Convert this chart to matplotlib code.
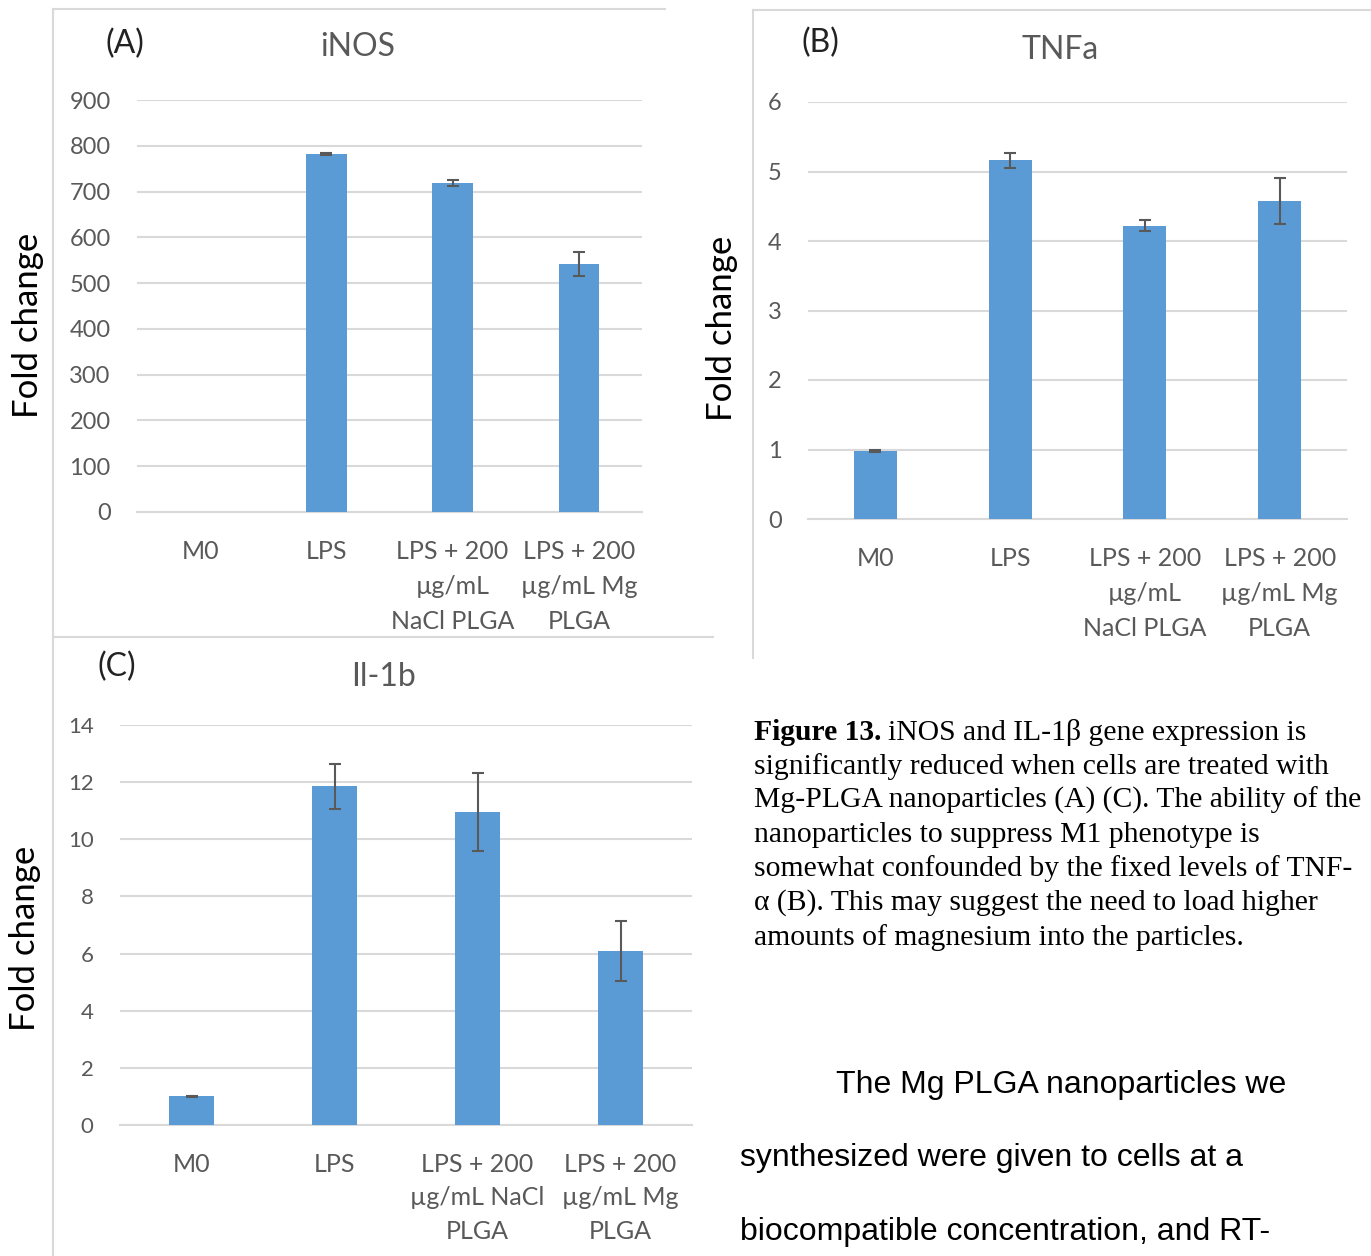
import matplotlib
matplotlib.use("Agg")
import matplotlib.pyplot as plt
from matplotlib.lines import Line2D

W, H = 1371, 1256

# ---- data ------------------------------------------------------------------
groups_ab = ["M0", "LPS", "LPS + 200\nµg/mL\nNaCl PLGA", "LPS + 200\nµg/mL Mg\nPLGA"]
groups_c = ["M0", "LPS", "LPS + 200\nµg/mL NaCl\nPLGA", "LPS + 200\nµg/mL Mg\nPLGA"]

inos_mean = [1, 782, 719, 542]
inos_err = [0, 2, 7, 27]

tnfa_mean = [0.98, 5.16, 4.22, 4.58]
tnfa_err = [0.01, 0.11, 0.08, 0.33]

il1b_mean = [1.0, 11.85, 10.95, 6.08]
il1b_err = [0.03, 0.8, 1.37, 1.05]

BAR = "#5b9bd5"
GRID = "#d9d9d9"
TXT = "#595959"
FONT = "Lato"


def fx(x):
    return x / W


def fy(y):
    return 1 - y / H


def panel(fig, box, labels, means, errs, ymax, ystep, tag, title,
          tag_xy, title_xy, ylab_xy, tick_size=17, lab_spacing=1.65):
    x0, ytop, x1, ybot = box
    ax = fig.add_axes([fx(x0), fy(ybot), fx(x1) - fx(x0), (ybot - ytop) / H])
    xs = list(range(len(labels)))
    ax.bar(xs, means, width=0.32, color=BAR, zorder=3)
    # only draw whiskers that have a spread
    ex = [x for x, e in zip(xs, errs) if e > 0]
    ey = [m for m, e in zip(means, errs) if e > 0]
    ee = [e for e in errs if e > 0]
    ax.errorbar(ex, ey, yerr=ee, fmt="none", ecolor=TXT, elinewidth=1.5,
                capsize=4, capthick=1.5, zorder=4)
    ax.set_xlim(-0.5, len(labels) - 0.5)
    ax.set_ylim(0, ymax)
    ticks = [i * ystep for i in range(int(round(ymax / ystep)) + 1)]
    ax.set_yticks(ticks)
    ax.set_yticklabels([str(t) for t in ticks])
    ax.yaxis.grid(True, color=GRID, linewidth=1.5, zorder=0)
    ax.set_axisbelow(True)
    for s in ["top", "right", "left"]:
        ax.spines[s].set_visible(False)
    ax.spines["bottom"].set_color(GRID)
    ax.spines["bottom"].set_linewidth(1.5)
    ax.tick_params(axis="y", length=0, colors=TXT, labelsize=tick_size, pad=19)
    ax.tick_params(axis="x", length=0, colors=TXT, labelsize=18, pad=20)
    ax.set_xticks(xs)
    ax.set_xticklabels(labels)
    for t in ax.get_xticklabels() + ax.get_yticklabels():
        t.set_fontfamily(FONT)
    for t in ax.get_xticklabels():
        t.set_linespacing(lab_spacing)
    ax.patch.set_visible(False)

    fig.text(fx(tag_xy[0]), fy(tag_xy[1]), tag, fontsize=23, family=FONT,
             color="#222222", ha="center", va="center")
    fig.text(fx(title_xy[0]), fy(title_xy[1]), title, fontsize=23, family=FONT,
             color=TXT, ha="center", va="center")
    fig.text(fx(ylab_xy[0]), fy(ylab_xy[1]), "Fold change", fontsize=25,
             family=FONT, color="black", rotation=90, ha="center", va="center")
    return ax


fig = plt.figure(figsize=(W / 100, H / 100), dpi=100)
fig.patch.set_facecolor("white")

# chart-area borders
for xs_, ys_ in [((53, 665), (9, 9)), ((53, 53), (9, 1256)),
                 ((53, 713), (637, 637)),
                 ((753, 1371), (10, 10)), ((753, 753), (10, 658))]:
    fig.add_artist(Line2D([fx(v) for v in xs_], [fy(v) for v in ys_],
                          color=GRID, linewidth=1.5))

panel(fig, (137, 100, 642, 512), groups_ab, inos_mean, inos_err, 900, 100,
      "(A)", "iNOS", (125, 44), (358, 47), (28, 325))
panel(fig, (808, 102, 1347, 519), groups_ab, tnfa_mean, tnfa_err, 6, 1,
      "(B)", "TNFa", (820, 43), (1060, 50), (722, 328))
panel(fig, (120, 725, 692, 1125), groups_c, il1b_mean, il1b_err, 14, 2,
      "(C)", "Il-1b", (117, 667), (383, 677), (25, 938), tick_size=16,
      lab_spacing=1.55)

# caption
cap_lines = [
    "iNOS and IL-1β gene expression is",
    "significantly reduced when cells are treated with",
    "Mg-PLGA nanoparticles (A) (C). The ability of the",
    "nanoparticles to suppress M1 phenotype is",
    "somewhat confounded by the fixed levels of TNF-",
    "α (B). This may suggest the need to load higher",
    "amounts of magnesium into the particles.",
]
serif = "Liberation Serif"
cap_size = 21.3
renderer = fig.canvas.get_renderer()
head = fig.text(fx(754), fy(732), "Figure 13.", fontsize=cap_size, family=serif,
                weight="bold", ha="left", va="center")
bb = head.get_window_extent(renderer)
fig.text(fx(bb.x1 + 7), fy(732), cap_lines[0], fontsize=cap_size, family=serif,
         ha="left", va="center")
for i, line in enumerate(cap_lines[1:], start=1):
    fig.text(fx(754), fy(732 + 34.2 * i), line, fontsize=cap_size, family=serif,
             ha="left", va="center")

# body text below the caption
sans = "Liberation Sans"
body_size = 23
fig.text(fx(836), fy(1085), "The Mg PLGA nanoparticles we", fontsize=body_size,
         family=sans, ha="left", va="center")
fig.text(fx(740), fy(1158), "synthesized were given to cells at a",
         fontsize=body_size, family=sans, ha="left", va="center")
fig.text(fx(740), fy(1232), "biocompatible concentration, and RT-",
         fontsize=body_size, family=sans, ha="left", va="center")

fig.savefig("out.png", dpi=100)
